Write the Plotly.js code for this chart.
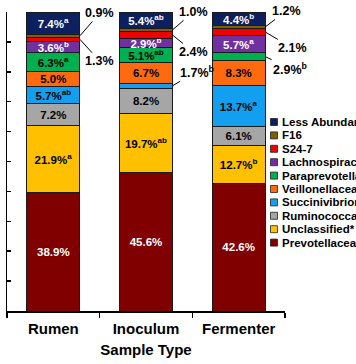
<!DOCTYPE html>
<html><head><meta charset="utf-8">
<script src="https://cdn.plot.ly/plotly-3.0.1.min.js"></script>
<style>html,body{margin:0;padding:0;background:#fff;} #chart{width:356px;height:364px;}</style>
</head><body><div id="chart"></div>
<script>
// ---- data ----
const sampleTypes = ['Rumen', 'Inoculum', 'Fermenter'];
const prevotellaceae = [38.9, 45.6, 42.6];
const prevotellaceaeSup = ['', '', ''];
const unclassified = [21.9, 19.7, 12.7];
const unclassifiedSup = ['a', 'ab', 'b'];
const ruminococcaceae = [7.2, 8.2, 6.1];
const ruminococcaceaeSup = ['', '', ''];
const succinivibrionaceae = [5.7, 1.7, 13.7];
const succinivibrionaceaeSup = ['ab', 'b', 'a'];
const veillonellaceae = [5.0, 6.7, 8.3];
const veillonellaceaeSup = ['', '', ''];
const paraprevotellaceae = [6.3, 5.1, 2.9];
const paraprevotellaceaeSup = ['a', 'ab', 'b'];
const lachnospiraceae = [3.6, 2.9, 5.7];
const lachnospiraceaeSup = ['b', 'b', 'a'];
const s247 = [1.3, 2.4, 2.1];
const s247Sup = ['', '', ''];
const f16 = [0.9, 1.0, 1.2];
const f16Sup = ['', '', ''];
const lessAbundant = [7.4, 5.4, 4.4];
const lessAbundantSup = ['a', 'ab', 'b'];
const seriesNames = ['Prevotellaceae', 'Unclassified*', 'Ruminococcaceae', 'Succinivibrionaceae',
  'Veillonellaceae', 'Paraprevotellaceae', 'Lachnospiraceae', 'S24-7', 'F16', 'Less Abundant'];

// ---- styling ----
const FONT = 'Arial, "Liberation Sans", sans-serif';
const W = 356, H = 364, ML = 7, MR = 71, MT = 12, MB = 53;
const PW = W - ML - MR, PH = H - MT - MB;
const BARGAP = 0.428;
const series = [
  {v: prevotellaceae, s: prevotellaceaeSup, color: '#800000', tc: '#ffffff'},
  {v: unclassified, s: unclassifiedSup, color: '#ffc000', tc: '#000000'},
  {v: ruminococcaceae, s: ruminococcaceaeSup, color: '#a6a6a6', tc: '#000000'},
  {v: succinivibrionaceae, s: succinivibrionaceaeSup, color: '#139ff0', tc: '#000000'},
  {v: veillonellaceae, s: veillonellaceaeSup, color: '#ff6a0e', tc: '#000000'},
  {v: paraprevotellaceae, s: paraprevotellaceaeSup, color: '#00b050', tc: '#000000'},
  {v: lachnospiraceae, s: lachnospiraceaeSup, color: '#7030a0', tc: '#ffffff'},
  {v: s247, s: s247Sup, color: '#ee0000', tc: '#000000'},
  {v: f16, s: f16Sup, color: '#7f6000', tc: '#000000'},
  {v: lessAbundant, s: lessAbundantSup, color: '#0c1f5e', tc: '#ffffff'}
];
// labels drawn outside with leader lines: [seriesIndex, barIndex, ax, ay]
const outside = [
  [8, 0, 20, -23], [7, 0, 20, 22],
  [8, 1, 21, -18], [7, 1, 21, 17], [3, 1, 24, -14],
  [8, 2, 21, -16], [7, 2, 27, 16], [5, 2, 25, 12]
];
const isOutside = (si, bi) => outside.some(o => o[0] === si && o[1] === bi);
const lbl = (v, s) => v.toFixed(1) + '%' + (s ? '<sup>' + s + '</sup>' : '');

const traces = series.map((sr, si) => ({
  type: 'bar',
  name: seriesNames[si],
  x: sampleTypes,
  y: sr.v,
  text: sr.v.map((v, bi) => lbl(v, sr.s[bi])),
  textposition: sr.v.map((v, bi) => isOutside(si, bi) ? 'none' : 'inside'),
  insidetextanchor: 'middle',
  textangle: 0,
  textfont: {family: FONT, size: 11.5, color: sr.tc, weight: 'bold'},
  marker: {color: sr.color, line: {color: '#1a1a1a', width: 1}},
  hoverinfo: 'name+y',
  showlegend: false
}));

// totals per bar (barnorm: percent rescales each stack to 100)
const totals = sampleTypes.map((_, bi) => series.reduce((a, sr) => a + sr.v[bi], 0));
const annotations = outside.map(([si, bi, ax, ay]) => {
  let before = 0;
  for (let k = 0; k < si; k++) before += series[k].v[bi];
  const mid = (before + series[si].v[bi] / 2) / totals[bi] * 100;
  return {
    x: bi + (1 - BARGAP) / 2, y: mid, xref: 'x', yref: 'y',
    text: lbl(series[si].v[bi], series[si].s[bi]),
    showarrow: true, arrowhead: 0, arrowwidth: 1, arrowcolor: '#000',
    ax: ax, ay: ay, standoff: 0,
    font: {family: FONT, size: 12.5, color: '#000', weight: 'bold'}
  };
});

// legend (top entry = last series)
const px2x = px => (px - ML) / PW;
const px2y = py => (H - MB - py) / PH;
const shapes = [];
const legTop = 122, legStep = 13.4;
for (let k = 0; k < series.length; k++) {
  const si = series.length - 1 - k;
  const cy = legTop + k * legStep;
  shapes.push({type: 'rect', xref: 'paper', yref: 'paper',
    x0: px2x(270.5), x1: px2x(277.5), y0: px2y(cy + 3.5), y1: px2y(cy - 3.5),
    fillcolor: series[si].color, line: {color: '#222', width: 0.8}});
  annotations.push({xref: 'paper', yref: 'paper', x: px2x(279.5), y: px2y(cy),
    xanchor: 'left', yanchor: 'middle', showarrow: false, text: seriesNames[si],
    font: {family: FONT, size: 11.5, color: '#000', weight: 'bold'}});
}

const layout = {
  width: W, height: H,
  margin: {l: ML, r: MR, t: MT, b: MB, pad: 0},
  paper_bgcolor: '#fff', plot_bgcolor: '#fff',
  font: {family: FONT, color: '#000', weight: 'bold'},
  barmode: 'stack', barnorm: 'percent', bargap: BARGAP,
  uniformtext: {mode: 'show', minsize: 11.5},
  showlegend: false,
  xaxis: {
    type: 'category', range: [-0.5, 2.5], fixedrange: true,
    showline: true, linecolor: '#000', linewidth: 1.5,
    ticks: 'outside', tickson: 'boundaries', ticklen: 5, tickwidth: 1.5, tickcolor: '#000',
    ticklabelstandoff: 3,
    tickfont: {family: FONT, size: 15, weight: 'bold'},
    showgrid: false, automargin: false,
    title: {text: 'Sample Type', font: {family: FONT, size: 15, weight: 'bold'}, standoff: 9}
  },
  yaxis: {
    range: [0, 100], dtick: 10, fixedrange: true,
    showline: true, linecolor: '#000', linewidth: 1.5,
    ticks: 'inside', ticklen: 4, tickwidth: 1.5, tickcolor: '#000',
    showticklabels: false, showgrid: false, zeroline: false, automargin: false
  },
  annotations: annotations,
  shapes: shapes
};

Plotly.newPlot('chart', traces, layout, {displayModeBar: false, staticPlot: true});
</script>
</body></html>
